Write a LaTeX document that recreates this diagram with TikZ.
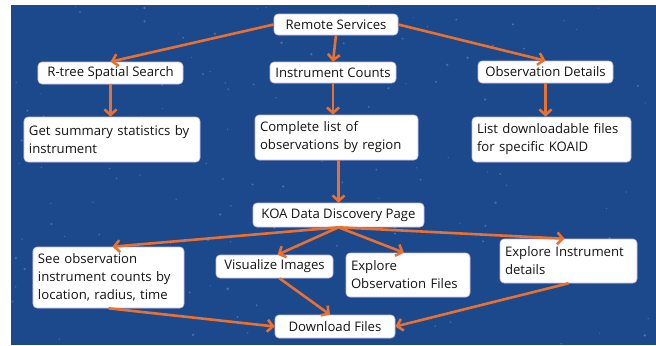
\documentclass[tikz,border=0pt]{standalone}
\usepackage{fontspec}
\setmainfont{Open Sans}
\usetikzlibrary{arrows.meta}
\definecolor{bgblue}{RGB}{28,72,140}
\definecolor{arr}{RGB}{232,112,48}
\definecolor{edge}{RGB}{200,185,225}
\definecolor{txt}{RGB}{20,20,20}
\tikzset{
  box/.style={draw=edge, line width=0.6bp, fill=white, rounded corners=4bp,
    inner xsep=5bp, inner ysep=2bp, text=txt, font=\fontsize{13.2}{18}\selectfont},
  lbox/.style={box, align=left},
  flow/.style={draw=arr, line width=2.6bp, -{Straight Barb[length=5.5bp,width=12bp,line width=2.6bp]}}
}
\begin{document}
\begin{tikzpicture}[x=1bp,y=-1bp]
\useasboundingbox (0,0) rectangle (656,345);
\fill[white] (0,0) rectangle (656,345);
\fill[bgblue] (11,5) rectangle (656,345);
\pgfmathsetseed{11}
\foreach \i in {1,...,160}{
  \pgfmathsetmacro{\sx}{12+643*rnd}
  \pgfmathsetmacro{\sy}{6+338*rnd}
  \pgfmathsetmacro{\sr}{0.5+0.9*rnd}
  \fill[white, opacity=0.22] (\sx,\sy) circle (\sr bp);
}
% nodes
\node[box, minimum width=124bp, minimum height=21bp] (rs) at (336,24.5) {Remote Services};
\node[box, minimum width=145bp, minimum height=22bp] (rt) at (110.5,73) {R-tree Spatial Search};
\node[box, minimum width=126bp, minimum height=21bp] (ic) at (333,72.5) {Instrument Counts};
\node[box, minimum width=135bp, minimum height=22bp] (od) at (545.5,72) {Observation Details};
\node[lbox, text width=166bp, minimum height=45bp] (gs) at (112,139.5) {Get summary statistics by\\instrument};
\node[lbox, text width=153bp, minimum height=45bp] (cl) at (336.5,137.5) {Complete list of\\observations by region};
\node[lbox, text width=149bp, minimum height=45bp] (ld) at (551.5,139.5) {List downloadable files\\for specific KOAID};
\node[box, minimum width=171bp, minimum height=24bp] (koa) at (338.5,215) {KOA Data Discovery Page};
\node[lbox, text width=141bp, minimum height=61bp] (so) at (108.5,277.5) {See observation\\instrument counts by\\location, radius, time};
\node[box, minimum width=117bp, minimum height=23bp] (vi) at (274.5,266.5) {Visualize Images};
\node[lbox, text width=114bp, minimum height=44bp] (eo) at (408,275) {Explore\\Observation Files};
\node[lbox, text width=127bp, minimum height=44bp] (ei) at (568.5,261) {Explore Instrument\\details};
\node[box, minimum width=120bp, minimum height=23bp] (df) at (335,326.5) {Download Files};
% connectors
\draw[flow] (rs.west) -- (rt.north);
\draw[flow] (rs.south) -- (ic.north);
\draw[flow] (rs.east) -- (od.north);
\draw[flow] (rt.south) -- (gs.north -| rt.south);
\draw[flow] (ic.south) -- (cl.north -| ic.south);
\draw[flow] (od.south) -- (ld.north -| od.south);
\draw[flow] (cl.south -| koa.south) -- (koa.north);
\draw[flow] (koa.south) -- ([xshift=4bp]so.north);
\draw[flow] (koa.south) -- ([xshift=3bp]vi.north);
\draw[flow] (koa.south) -- ([xshift=-4bp]eo.north);
\draw[flow] (koa.south) -- ([xshift=-4bp]ei.north);
\draw[flow] (so.south) -- (df.west);
\draw[flow] ([xshift=5bp]vi.south) -- ([xshift=-5bp]df.north);
\draw[flow] (ei.south) -- (df.east);
\end{tikzpicture}
\end{document}
